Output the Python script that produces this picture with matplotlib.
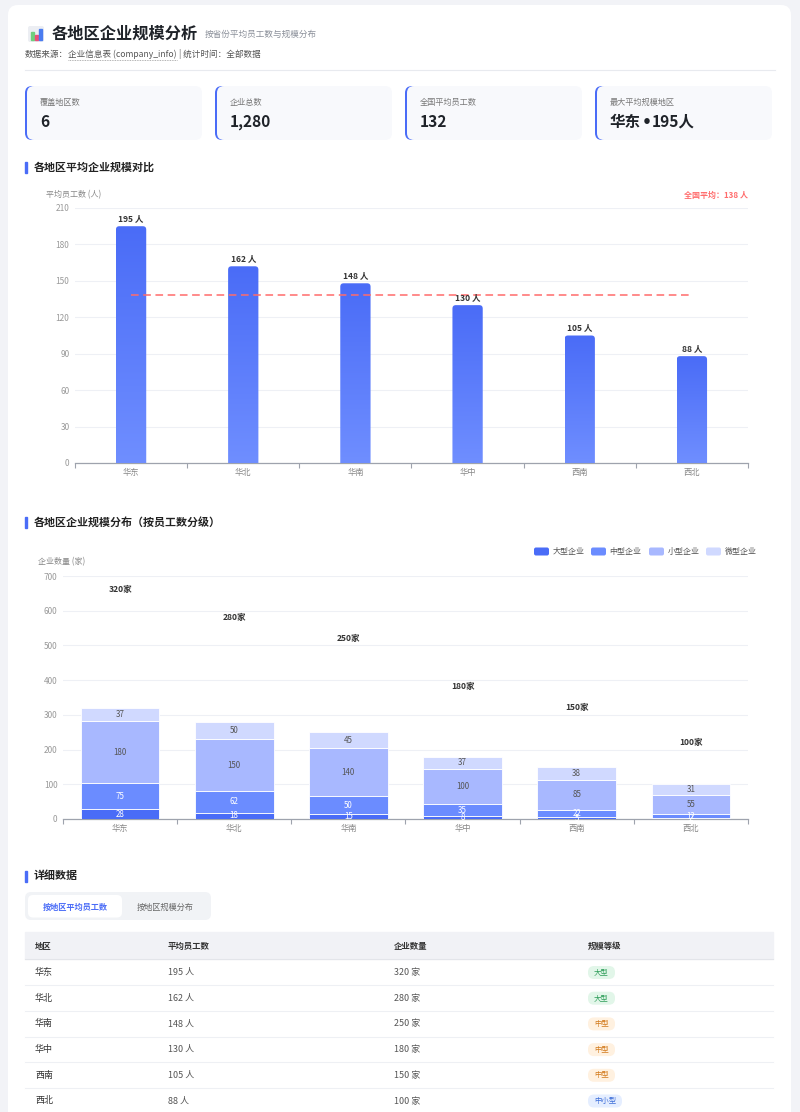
import numpy as np
import matplotlib
matplotlib.use('Agg')
from matplotlib import pyplot as plt
from matplotlib.patches import FancyBboxPatch, Rectangle
from matplotlib.colors import LinearSegmentedColormap

plt.rcParams['font.family'] = ['Noto Sans CJK SC', 'DejaVu Sans']

# 数据
regions = ['华东', '华北', '华南', '华中', '西南', '西北']
avg_staff = [195, 162, 148, 130, 105, 88]
company_count = [320, 280, 250, 180, 150, 100]
national_avg = 138

large = [28, 18, 15, 8, 5, 2]
medium = [75, 62, 50, 35, 22, 12]
small = [180, 150, 140, 100, 85, 55]
micro = [37, 50, 45, 37, 38, 31]
size_names = ['大型企业', '中型企业', '小型企业', '微型企业']
size_colors = ['#4a6cf7', '#6b8cff', '#a8b8ff', '#d0d9ff']

levels = ['大型', '大型', '中型', '中型', '中型', '中小型']
level_style = {'大型': ('#e2f6e9', '#2f9e5a'),
               '中型': ('#fff1e0', '#d27a1c'),
               '中小型': ('#e5eeff', '#3d6dd8')}

kpi_labels = ['覆盖地区数', '企业总数', '全国平均员工数', '最大平均规模地区']
kpi_values = ['6', '1,280', '132', '华东•195人']

W, H = 800, 1112


def pt(px):
    # 像素 -> 磅 (dpi=100)
    return px * 0.72


def box(ax, x, y, w, h, r, color, z=1, **kw):
    p = FancyBboxPatch((x, y), w, h, boxstyle=f'round,pad=0,rounding_size={r}',
                       facecolor=color, edgecolor='none', zorder=z, **kw)
    ax.add_patch(p)
    return p


def section_title(ax, y, s):
    ax.add_patch(Rectangle((25, y - 5.5), 2.2, 11, color='#4a6cf7', zorder=2))
    ax.text(34, y, s, fontsize=pt(11), fontweight='bold', color='#222', va='center', zorder=2)


fig = plt.figure(figsize=(8, 11.12), dpi=100)
fig.patch.set_facecolor('#f2f3f7')
bg = fig.add_axes([0, 0, 1, 1])
bg.set_xlim(0, W)
bg.set_ylim(H, 0)
bg.axis('off')
renderer = fig.canvas.get_renderer()

# 白色卡片
box(bg, 8, 5, 783, 1140, 10, 'white', z=0)

# 标题图标
box(bg, 28, 26, 16, 16, 2, '#eceef3', z=1)
bg.add_patch(Rectangle((30.5, 32), 3, 8, color='#6fcf7f', zorder=2))
bg.add_patch(Rectangle((34.5, 35), 3, 5, color='#e8507a', zorder=2))
bg.add_patch(Rectangle((38.5, 29), 3, 11, color='#4a7cf0', zorder=2))

bg.text(52, 34, '各地区企业规模分析', fontsize=pt(16.2), fontweight='bold', color='#1f2329', va='center')
bg.text(205, 34, '按省份平均员工数与规模分布', fontsize=pt(8.6), color='#8a8f99', va='center')

# 数据来源
t1 = bg.text(25, 54, '数据来源：', fontsize=pt(8.6), color='#555', va='center')
x1 = t1.get_window_extent(renderer).x1
t2 = bg.text(x1, 54, '企业信息表 (company_info)', fontsize=pt(8.6), color='#555', va='center')
x2 = t2.get_window_extent(renderer).x1
bg.plot([x1, x2], [59.5, 59.5], color='#999', lw=0.6, ls=(0, (1, 1)))
bg.text(x2 + 2, 54, '| 统计时间：全部数据', fontsize=pt(8.6), color='#555', va='center')
bg.plot([25, 775], [70, 70], color='#e8eaef', lw=0.8)

# 指标卡片
card_x = [25, 215, 405, 595]
for cx, lab, val in zip(card_x, kpi_labels, kpi_values):
    box(bg, cx, 86, 24, 54, 7, '#4a6cf7', z=1)
    box(bg, cx + 2, 86, 175, 54, 7, '#f8f9fc', z=1)
    bg.text(cx + 15, 102, lab, fontsize=pt(8.2), color='#777', va='center', zorder=3)
    # 中文字体的圆点是全角的，拆开用 DejaVu 画，统一基线
    xx = cx + 15
    for k, part in enumerate(val.split('•')):
        if k > 0:
            dot = bg.text(xx + 0.5, 127, '•', fontsize=pt(15.5), fontweight='bold', color='#1f2329',
                          va='baseline', zorder=3, family='DejaVu Sans')
            xx = dot.get_window_extent(renderer).x1 + 0.5
        tv = bg.text(xx, 127, part, fontsize=pt(15.5), fontweight='bold', color='#1f2329',
                     va='baseline', zorder=3)
        xx = tv.get_window_extent(renderer).x1

# ---------- 图1: 平均员工数 ----------
section_title(bg, 167, '各地区平均企业规模对比')
bg.text(46, 195, '平均员工数 (人)', fontsize=pt(8), color='#888', va='center')
bg.text(748, 195, f'全国平均：{national_avg} 人', fontsize=pt(8), fontweight='bold',
        color='#ff6b6b', va='center', ha='right')

ax1 = fig.add_axes([75 / W, (H - 463) / H, (748 - 75) / W, (463 - 208) / H])
ax1.set_facecolor('none')
x = np.arange(len(regions))
bars = ax1.bar(x, avg_staff, width=0.27, color='none', zorder=3)
cmap = LinearSegmentedColormap.from_list('blue_grad', ['#6f8eff', '#4a6cf7'])
grad = np.linspace(0, 1, 200).reshape(-1, 1)
asp = (210 / 255) / (6 / 673)
for b in bars:
    x0, w, h = b.get_x(), b.get_width(), b.get_height()
    im = ax1.imshow(grad, extent=[x0, x0 + w, 0, h], origin='lower', cmap=cmap,
                    aspect='auto', zorder=3)
    clip = FancyBboxPatch((x0, -10), w, h + 10, boxstyle='round,pad=0,rounding_size=0.03',
                          mutation_aspect=asp, transform=ax1.transData, facecolor='none',
                          edgecolor='none')
    im.set_clip_path(clip)
    ax1.annotate(f'{int(h)} 人', (x0 + w / 2, h), xytext=(0, 2.5), textcoords='offset points',
                 ha='center', va='bottom', fontsize=pt(8.5), fontweight='bold', color='#333',
                 zorder=5)
ax1.plot([x[0], x[-1]], [national_avg, national_avg], color='#ff6b6b', lw=1.1,
         ls=(0, (5, 3)), zorder=4)

ax1.set_xlim(-0.5, len(regions) - 0.5)
ax1.set_ylim(0, 210)
ax1.set_yticks(range(0, 211, 30))

# ---------- 图2: 规模分布 ----------
section_title(bg, 522, '各地区企业规模分布（按员工数分级）')
bg.text(38, 562, '企业数量 (家)', fontsize=pt(8), color='#888', va='center')
leg_x = [534, 591, 649, 706]
for lx, name, c in zip(leg_x, size_names, size_colors):
    box(bg, lx, 547.5, 15, 8, 2, c, z=2)
    bg.text(lx + 18.5, 551.5, name, fontsize=pt(8), color='#555', va='center')

ax2 = fig.add_axes([63 / W, (H - 819) / H, (748 - 63) / W, (819 - 576) / H])
ax2.set_facecolor('none')
bottom = np.zeros(len(regions))
for k, (vals, c) in enumerate(zip([large, medium, small, micro], size_colors)):
    ax2.bar(x, vals, width=0.69, bottom=bottom, color=c, edgecolor='white', lw=0.6, zorder=3)
    for i, v in enumerate(vals):
        ax2.text(i, bottom[i] + v / 2, str(v), ha='center', va='center', fontsize=pt(8),
                 color='white' if k < 2 else '#555', zorder=4)
    bottom += np.array(vals)
for i, tot in enumerate(company_count):
    ax2.annotate(f'{tot}家', (i, tot * 2), xytext=(0, 2), textcoords='offset points',
                 ha='center', va='bottom', fontsize=pt(8.5), fontweight='bold', color='#333')
ax2.set_xlim(-0.5, len(regions) - 0.5)
ax2.set_ylim(0, 700)
ax2.set_yticks(range(0, 701, 100))

for ax in (ax1, ax2):
    for s in ('top', 'right', 'left'):
        ax.spines[s].set_visible(False)
    ax.spines['bottom'].set_color('#9ea3ad')
    ax.spines['bottom'].set_linewidth(0.9)
    ax.yaxis.grid(True, color='#eef0f5', lw=0.8)
    ax.set_axisbelow(True)
    ax.tick_params(axis='y', length=0, pad=4, labelsize=pt(8.3), labelcolor='#999')
    ax.set_xticks(np.arange(-0.5, len(regions)), labels=[''] * (len(regions) + 1))
    ax.set_xticks(x, labels=regions, minor=True)
    ax.tick_params(axis='x', which='major', length=3.5, color='#9ea3ad', width=0.8)
    ax.tick_params(axis='x', which='minor', length=0, pad=3.5, labelsize=pt(8.3), labelcolor='#888')

# ---------- 明细表 ----------
section_title(bg, 876, '详细数据')
box(bg, 25, 892, 186, 28, 6, '#f1f3f6', z=1)
box(bg, 28, 895, 94, 22.5, 5, 'white', z=2)
bg.text(75, 907, '按地区平均员工数', fontsize=pt(8.2), fontweight='bold', color='#4a6cf7',
        ha='center', va='center', zorder=3)
bg.text(165, 907, '按地区规模分布', fontsize=pt(8.2), color='#666', ha='center', va='center', zorder=3)

bg.add_patch(Rectangle((25, 932), 748, 27, color='#f1f2f6', zorder=1))
bg.plot([25, 773], [959, 959], color='#e3e5ea', lw=0.8)
col_x = [35, 168, 394, 588]
for cx, s in zip(col_x, ['地区', '平均员工数', '企业数量', '规模等级']):
    bg.text(cx, 946, s, fontsize=pt(8.4), fontweight='bold', color='#333', va='center', zorder=2)

row_y = 972.5
row_h = 25.7
for i, r in enumerate(regions):
    yy = row_y + i * row_h
    bg.text(col_x[0], yy, r, fontsize=pt(9), fontweight='medium', color='#333', va='center')
    bg.text(col_x[1], yy, f'{avg_staff[i]} 人', fontsize=pt(9), color='#555', va='center')
    bg.text(col_x[2], yy, f'{company_count[i]} 家', fontsize=pt(9), color='#555', va='center')
    fc, tc = level_style[levels[i]]
    bw = 27 if len(levels[i]) == 2 else 34
    box(bg, col_x[3], yy - 6.5, bw, 13, 6, fc, z=1)
    bg.text(col_x[3] + bw / 2, yy, levels[i], fontsize=pt(7.4), color=tc, ha='center',
            va='center', zorder=2)
    if i < len(regions) - 1:
        bg.plot([25, 773], [yy + row_h / 2, yy + row_h / 2], color='#eef0f4', lw=0.8)

fig.savefig('out.png', dpi=100, facecolor=fig.get_facecolor())
